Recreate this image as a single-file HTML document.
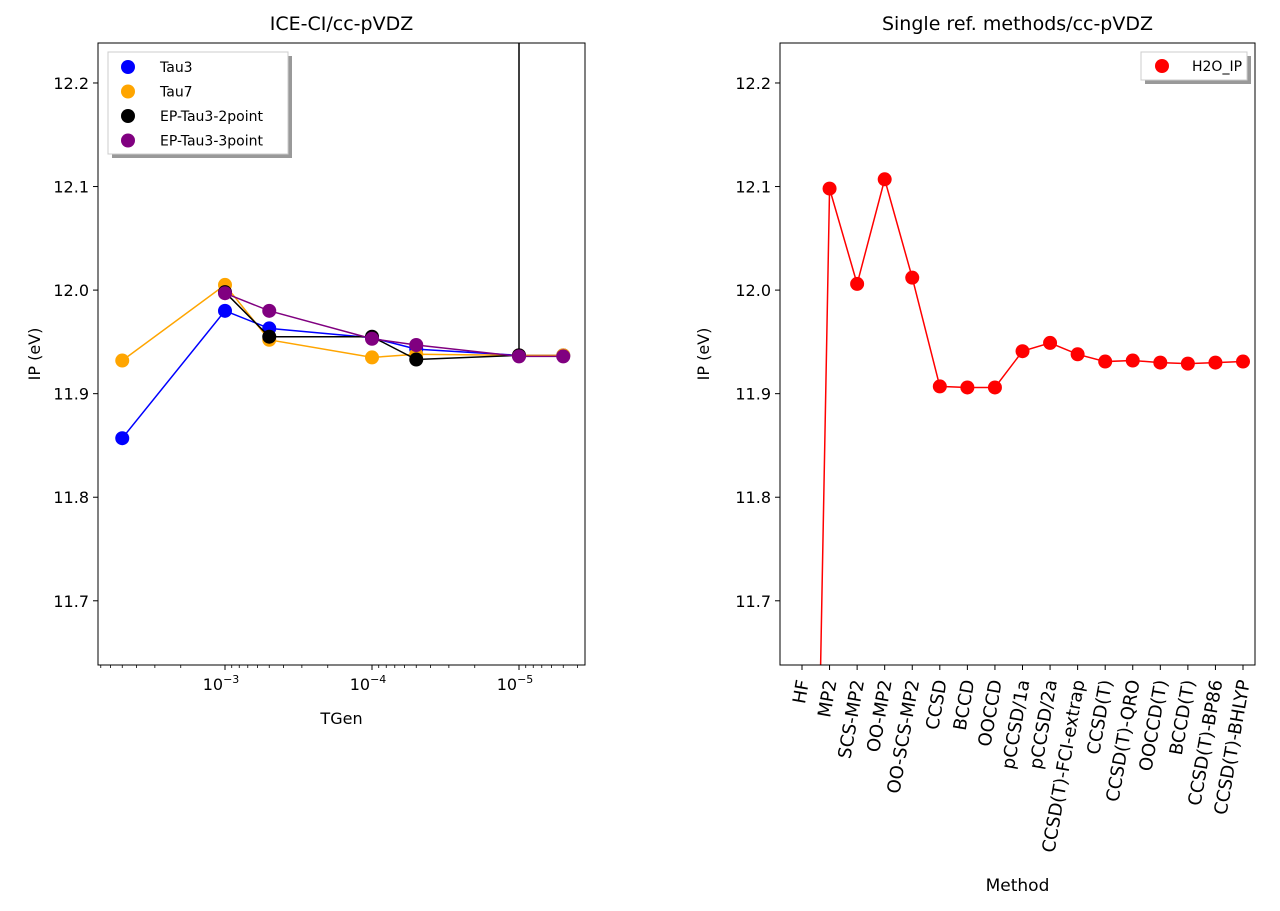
<!DOCTYPE html>
<html><head><meta charset="utf-8">
<style>
html,body{margin:0;padding:0;background:#fff;overflow:hidden;width:1280px;height:911px;}
svg{display:block;font-family:"DejaVu Sans","Liberation Sans",sans-serif;}
</style></head>
<body>
<svg id="fig" width="1280" height="911" viewBox="0 0 1280 911" xmlns="http://www.w3.org/2000/svg">
<g id="left"></g>
<g id="right"></g>
</svg>
<script>
// ---------- data ----------
const leftYTicks = [11.7, 11.8, 11.9, 12.0, 12.1, 12.2];
const tau3X = [5e-3, 1e-3, 5e-4, 1e-4, 5e-5, 1e-5, 5e-6];
const tau3Y = [11.857, 11.980, 11.963, 11.954, 11.943, 11.937, 11.937];
const tau7X = [5e-3, 1e-3, 5e-4, 1e-4, 5e-5, 1e-5, 5e-6];
const tau7Y = [11.932, 12.005, 11.952, 11.935, 11.938, 11.937, 11.937];
const ep2X = [1e-3, 5e-4, 1e-4, 5e-5, 1e-5, 1e-5];
const ep2Y = [11.998, 11.955, 11.955, 11.933, 11.937, 13.5];
const ep3X = [1e-3, 5e-4, 1e-4, 5e-5, 1e-5, 5e-6];
const ep3Y = [11.997, 11.980, 11.953, 11.947, 11.936, 11.936];
const methods = ["HF","MP2","SCS-MP2","OO-MP2","OO-SCS-MP2","CCSD","BCCD","OOCCD","pCCSD/1a","pCCSD/2a","CCSD(T)-FCI-extrap","CCSD(T)","CCSD(T)-QRO","OOCCD(T)","BCCD(T)","CCSD(T)-BP86","CCSD(T)-BHLYP"];
const ipValues = [10.68, 12.098, 12.006, 12.107, 12.012, 11.907, 11.906, 11.906, 11.941, 11.949, 11.938, 11.931, 11.932, 11.930, 11.929, 11.930, 11.931];

const NS = "http://www.w3.org/2000/svg";
function el(tag, attrs, parent, txt){
  const e = document.createElementNS(NS, tag);
  for (const k in attrs) e.setAttribute(k, attrs[k]);
  if (txt !== undefined) e.textContent = txt;
  parent.appendChild(e); return e;
}
const yTop = 43, yBot = 665;
const yMax = 12.2386, yMin = 11.638;
function y(v){ return yTop + (yMax - v) / (yMax - yMin) * (yBot - yTop); }

// ---------- left ----------
const L = document.getElementById('left');
const lx0 = 98, lx1 = 585;
function xl(v){ return 225 + (-3 - Math.log10(v)) * 147; }
const clipL = el('clipPath', {id:'cl'}, L);
el('rect', {x:lx0, y:yTop, width:lx1-lx0, height:yBot-yTop}, clipL);
el('text', {x:(lx0+lx1)/2, y:30, 'text-anchor':'middle', 'font-size':19}, L, 'ICE-CI/cc-pVDZ');
const lplot = el('g', {'clip-path':'url(#cl)'}, L);
function series(xs, ys, color, name){
  const g = el('g', {}, lplot);
  
  
  el('polyline', {points: xs.map((v,i)=>xl(v)+','+y(ys[i])).join(' '), fill:'none', stroke:color, 'stroke-width':1.5}, g);
  xs.forEach((v,i)=>{
    const c = el('circle', {cx:xl(v), cy:y(ys[i]), r:7, fill:color}, g);
    
    
  });
}
series(tau3X, tau3Y, '#0000ff', 'tau3-series');
series(tau7X, tau7Y, '#ffa500', 'tau7-series');
series(ep2X, ep2Y, '#000000', 'ep-tau3-2point-series');
series(ep3X, ep3Y, '#800080', 'ep-tau3-3point-series');
el('rect', {x:lx0, y:yTop, width:lx1-lx0, height:yBot-yTop, fill:'none', stroke:'#000', 'stroke-width':1}, L);
leftYTicks.forEach(t=>{
  el('line', {x1:lx0-5, x2:lx0, y1:y(t), y2:y(t), stroke:'#000'}, L);
  const tx = el('text', {x:lx0-9, y:y(t)+6, 'text-anchor':'end', 'font-size':16}, L, t.toFixed(1));
  
  
});
for (let d = -3; d >= -5; d--) {
  const X = xl(Math.pow(10, d));
  el('line', {x1:X, x2:X, y1:yBot, y2:yBot+5, stroke:'#000'}, L);
  const tx = el('text', {x:X-4, y:yBot+25, 'text-anchor':'middle', 'font-size':16}, L, '10');
  el('tspan', {dy:-7, 'font-size':11}, tx, '−' + (-d));
  
  
}
for (let d = -2; d >= -6; d--) for (let m = 2; m <= 9; m++) {
  const v = m * Math.pow(10, d - 1);
  const XX = xl(v);
  if (XX > lx0 && XX < lx1) el('line', {x1:XX, x2:XX, y1:yBot, y2:yBot+3, stroke:'#000', 'stroke-width':0.8}, L);
}
el('text', {x:(lx0+lx1)/2, y:724, 'text-anchor':'middle', 'font-size':16}, L, 'TGen');
el('text', {x:0, y:0, 'text-anchor':'middle', 'font-size':16, transform:'translate(40,354) rotate(-90)'}, L, 'IP (eV)');
const lg = el('g', {}, L);


el('rect', {x:112, y:56, width:180, height:102, fill:'#999'}, lg);
el('rect', {x:108, y:52, width:180, height:102, fill:'#fff', stroke:'#ccc'}, lg);
const legItems = [['Tau3','#0000ff'],['Tau7','#ffa500'],['EP-Tau3-2point','#000'],['EP-Tau3-3point','#800080']];
legItems.forEach((it,i)=>{
  const cy = 67 + i*24.5;
  el('circle', {cx:128, cy:cy, r:7, fill:it[1]}, lg);
  const t = el('text', {x:160, y:cy+5, 'font-size':14}, lg, it[0]);
  
  
});

// ---------- right ----------
const R = document.getElementById('right');
const rx0 = 780, rx1 = 1255;
function xr(i){ return 802 + i * (1243 - 802) / (methods.length - 1); }
const clipR = el('clipPath', {id:'cr'}, R);
el('rect', {x:rx0, y:yTop, width:rx1-rx0, height:yBot-yTop}, clipR);
el('text', {x:(rx0+rx1)/2, y:30, 'text-anchor':'middle', 'font-size':19}, R, 'Single ref. methods/cc-pVDZ');
const rplot = el('g', {'clip-path':'url(#cr)'}, R);


el('polyline', {points: ipValues.map((v,i)=>xr(i)+','+y(v)).join(' '), fill:'none', stroke:'#ff0000', 'stroke-width':1.5}, rplot);
ipValues.forEach((v,i)=>{
  const c = el('circle', {cx:xr(i), cy:y(v), r:7, fill:'#ff0000'}, rplot);
  
  
});
el('rect', {x:rx0, y:yTop, width:rx1-rx0, height:yBot-yTop, fill:'none', stroke:'#000', 'stroke-width':1}, R);
leftYTicks.forEach(t=>{
  el('line', {x1:rx0-5, x2:rx0, y1:y(t), y2:y(t), stroke:'#000'}, R);
  const tx = el('text', {x:rx0-9, y:y(t)+6, 'text-anchor':'end', 'font-size':16}, R, t.toFixed(1));
  
  
});
methods.forEach((m,i)=>{
  const X = xr(i);
  el('line', {x1:X, x2:X, y1:yBot, y2:yBot+5, stroke:'#000'}, R);
  const tx = el('text', {x:0, y:0, 'text-anchor':'end', 'font-size':18, transform:'translate('+(X+7)+',681) rotate(-80)'}, R, m);
  
  
});
el('text', {x:(rx0+rx1)/2, y:891, 'text-anchor':'middle', 'font-size':17}, R, 'Method');
el('text', {x:0, y:0, 'text-anchor':'middle', 'font-size':16, transform:'translate(709,354) rotate(-90)'}, R, 'IP (eV)');
const rg = el('g', {}, R);


el('rect', {x:1145, y:56, width:106, height:28, fill:'#999'}, rg);
el('rect', {x:1141, y:52, width:106, height:28, fill:'#fff', stroke:'#ccc'}, rg);
el('circle', {cx:1162, cy:66, r:7, fill:'#ff0000'}, rg);
el('text', {x:1192, y:71, 'font-size':14}, rg, 'H2O_IP');
</script>
</body></html>
